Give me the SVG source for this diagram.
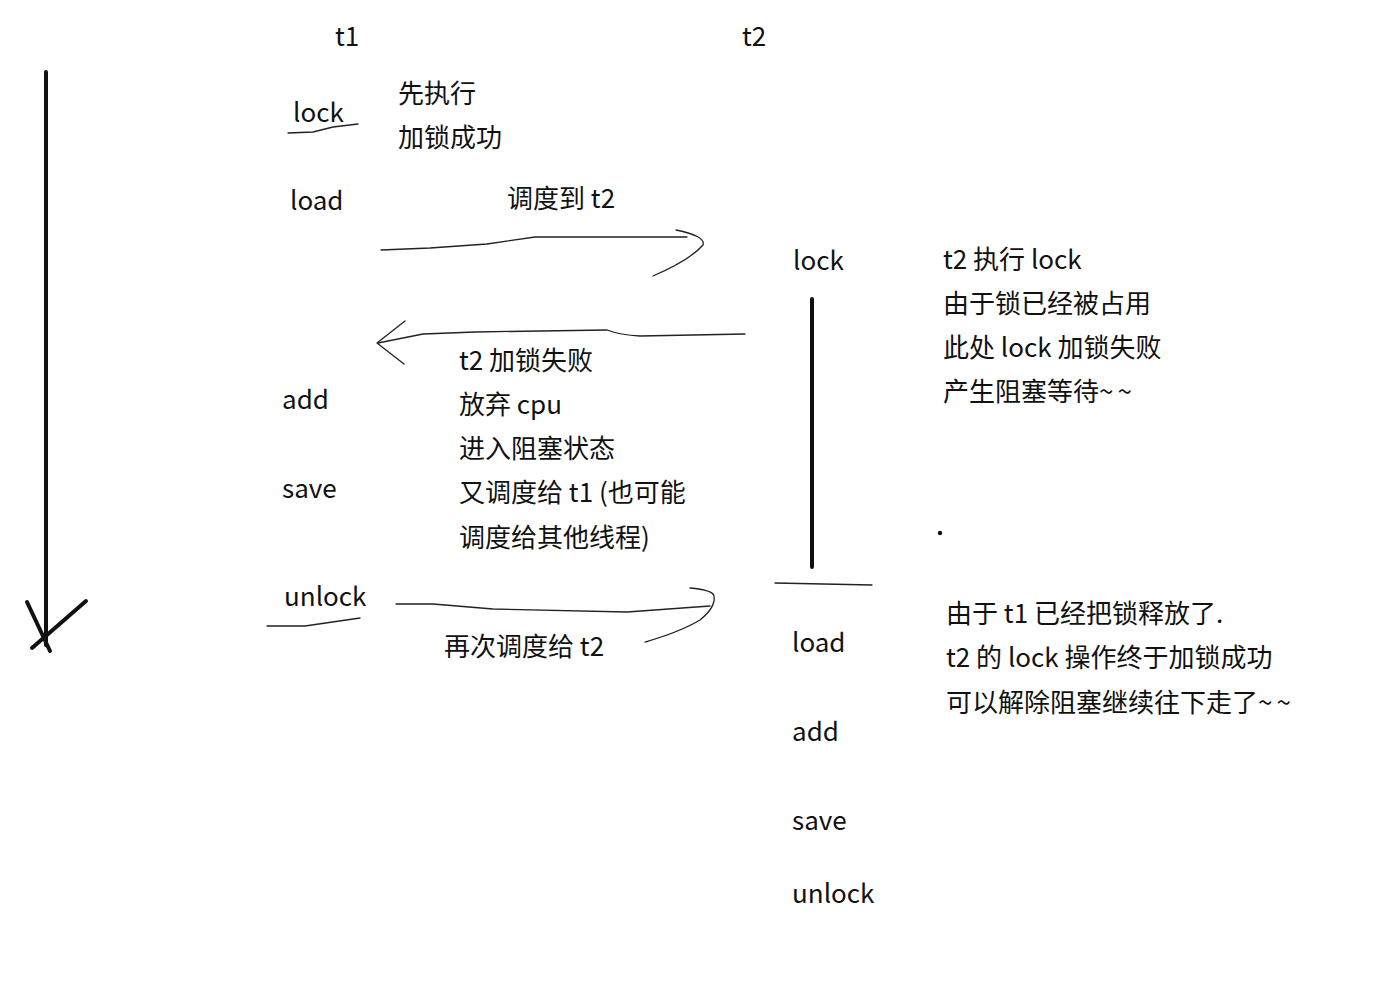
<svg xmlns="http://www.w3.org/2000/svg" width="1387" height="999" viewBox="0 0 1387 999">
<style>
text{font-family:"Noto Sans CJK SC","Liberation Sans",sans-serif;font-size:26px;fill:#111}
.tl{letter-spacing:4px}
.thin{fill:none;stroke:#222;stroke-width:1.3;stroke-linecap:round;stroke-linejoin:round}
.thick{fill:none;stroke:#111;stroke-width:4;stroke-linecap:round}
</style>
<rect width="1387" height="999" fill="#fff"/>
<g id="timeline">
<path class="thick" d="M46,72 L46,645"/>
<path class="thick" d="M27,602 L50,651 M32,648 L86,601"/>
</g>
<g id="t1">
<text x="335" y="46">t1</text>
<text x="293" y="122">lock</text>
<text x="290" y="210">load</text>
<text x="282" y="409">add</text>
<text x="282" y="498">save</text>
<text x="284" y="606">unlock</text>
</g>
<g id="t2">
<text x="742" y="46">t2</text>
<text x="793" y="270">lock</text>
<text x="792" y="652">load</text>
<text x="792" y="741">add</text>
<text x="792" y="830">save</text>
<text x="792" y="903">unlock</text>
<path class="thick" d="M812,299 L812,567"/>
<path class="thin" d="M775,583 L872,585"/>
</g>
<g id="notes">
<text x="398" y="103">先执行</text>
<text x="398" y="147">加锁成功</text>
<text x="507" y="208">调度到 t2</text>
<text x="943" y="269">t2 执行 lock</text>
<text x="943" y="313">由于锁已经被占用</text>
<text x="943" y="357">此处 lock 加锁失败</text>
<text x="943" y="401">产生阻塞等待<tspan class="tl">~~</tspan></text>
<text x="459" y="370">t2 加锁失败</text>
<text x="459" y="414">放弃 cpu</text>
<text x="459" y="458">进入阻塞状态</text>
<text x="459" y="502">又调度给 t1 (也可能</text>
<text x="459" y="547">调度给其他线程)</text>
<text x="444" y="656">再次调度给 t2</text>
<text x="946" y="623">由于 t1 已经把锁释放了.</text>
<text x="946" y="667">t2 的 lock 操作终于加锁成功</text>
<text x="946" y="712">可以解除阻塞继续往下走了<tspan class="tl">~~</tspan></text>
<circle cx="940" cy="533" r="2.2" fill="#111"/>
</g>
<g id="connectors">
<path class="thin" d="M288,133 L313,132 L333,127 L358,124"/>
<path class="thin" d="M267,626 L305,626 L360,618"/>
<path class="thin" d="M381,250 L430,248 L487,244 L535,237 L687,237"/>
<path class="thin" d="M676,230 Q706,236 703,245 Q690,260 653,276"/>
<path class="thin" d="M745,334 L640,336 Q620,335 607,330 L475,332 L423,334 L378,343"/>
<path class="thin" d="M405,321 L377,343 L404,364"/>
<path class="thin" d="M396,604 L433,604 L493,609 L627,612 L710,606"/>
<path class="thin" d="M690,588 Q713,590 714,596 Q716,607 700,620 Q680,632 645,642"/>
</g>
</svg>
